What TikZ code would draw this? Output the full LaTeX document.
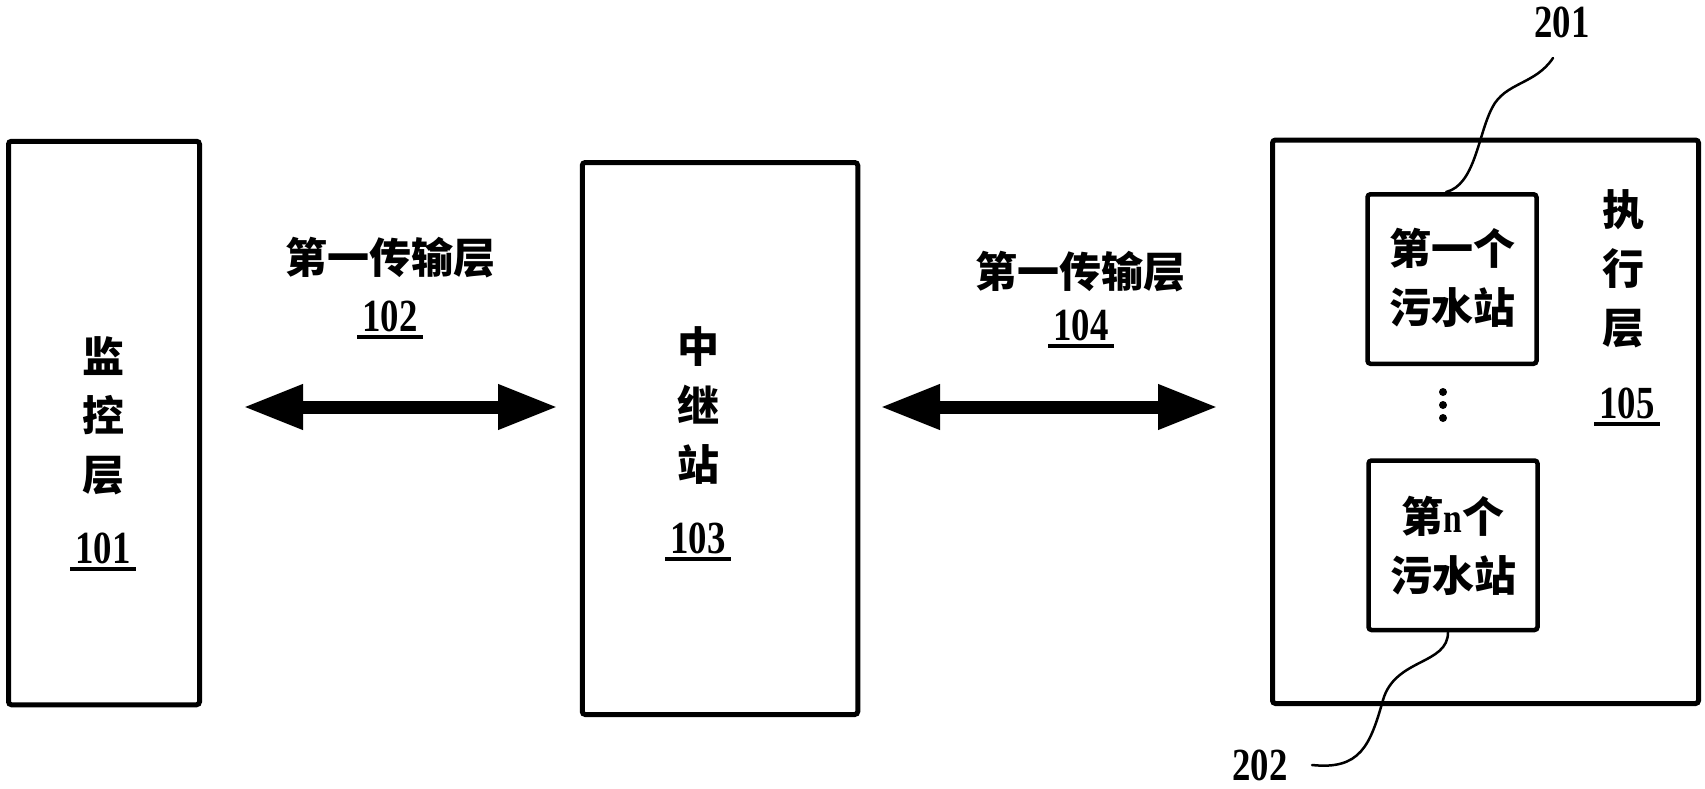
\documentclass[tikz,border=0pt]{standalone}
\usepackage{fontspec}
\setmainfont{Liberation Serif}
\newfontfamily\cjk{Noto Sans CJK SC}
\newfontfamily\numfont{Liberation Serif}[FakeStretch=0.8]
\usetikzlibrary{arrows.meta,calc}
\newcommand\ulnum[1]{\setbox0=\hbox{#1}\kern-5pt\rlap{\kern5pt\copy0}\rule[-8pt]{\dimexpr\wd0+10pt\relax}{4pt}\kern-5pt}
\tikzset{
  box/.style={draw, line width=5pt, rounded corners=3pt, inner sep=0pt},
  sbox/.style={draw, line width=4.5pt, rounded corners=3pt, inner sep=0pt},
  cj/.style={font=\cjk\bfseries\fontsize{42}{59}\selectfont, align=center, inner sep=0pt},
  num/.style={font=\numfont\bfseries\fontsize{46}{50}\selectfont, inner sep=0pt, anchor=base},
  link/.style={line width=13pt, {Triangle[length=60pt,width=42pt]}-{Triangle[length=60pt,width=42pt]}},
  lead/.style={line width=2.5pt, line cap=round},
  dot/.style={circle, fill, inner sep=0pt, minimum size=8pt},
}
\begin{document}
\begin{tikzpicture}[x=1pt,y=-1pt]
\useasboundingbox (0,0) rectangle (1705,788);
% monitoring layer
\node[box, minimum width=191pt, minimum height=563.5pt] (mon) at (104,423) {};
\node[cj] (monT) at (103,416) {监\\控\\层};
\node[num] (monN) at (103,563) {\ulnum{101}};
% relay station
\node[box, minimum width=275.5pt, minimum height=552pt] (rel) at (720,438.5) {};
\node[cj] (relT) at (698,406) {中\\继\\站};
\node[num] (relN) at (698,553) {\ulnum{103}};
% execution layer
\node[box, minimum width=426pt, minimum height=563.5pt] (exe) at (1485.5,421.75) {};
\node[cj] (exeT) at (1623,269) {执\\行\\层};
\node[num] (exeN) at (1627,418) {\ulnum{105}};
\node[sbox, minimum width=169pt, minimum height=169.5pt] (s1) at (1452,279) {};
\node[cj] (s1T) at (1452,278) {第一个\\污水站};
\node[sbox, minimum width=169pt, minimum height=169.5pt] (s2) at (1453,545.25) {};
\node[cj] (s2T) at (1453,546) {第{\numfont\bfseries n}个\\污水站};
\node[dot] (d1) at (1443,392) {};
\node[dot] (d2) at (1443,405) {};
\node[dot] (d3) at (1443,418) {};
% transmission layers
\node[cj] (t102) at (390,258) {第一传输层};
\node[num] (n102) at (390,331) {\ulnum{102}};
\node[cj] (t104) at (1080,272) {第一传输层};
\node[num] (n104) at (1081,340) {\ulnum{104}};
\coordinate (a1) at (243,407);
\coordinate (a2) at (558,407);
\coordinate (b1) at (880,407);
\coordinate (b2) at (1218,407);
\draw[link] (a1) -- (a2);
\draw[link] (b1) -- (b2);
% reference labels
\node[num] (l201) at (1562,37) {201};
\node[num] (l202) at (1260,780) {202};
\coordinate (c201) at (1553,58);
\coordinate (c202) at (1312,765);
\draw[lead] ($(s1.north)+(-6,0)$) .. controls (1475,185) and (1478,135) .. (1492,108) .. controls (1505,82) and (1535,85) .. (c201);
\draw[lead] ($(s2.south)+(-5,0)$) .. controls (1448,665) and (1395,658) .. (1383,700) .. controls (1370,746) and (1360,770) .. (c202);
\end{tikzpicture}
\end{document}
